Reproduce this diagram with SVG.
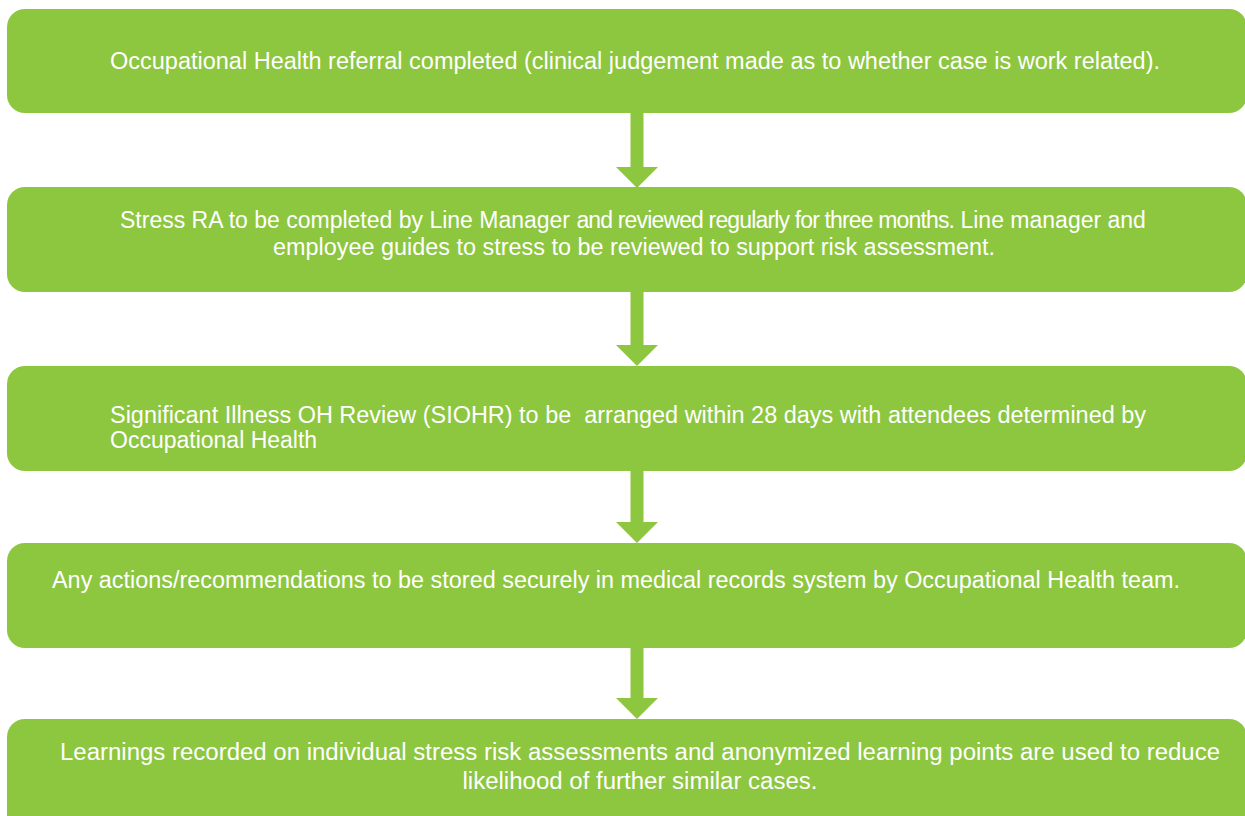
<svg xmlns="http://www.w3.org/2000/svg" width="1245" height="816" viewBox="0 0 1245 816">
  <style>
    .box { fill: #8DC63F; }
    .lbl { font-family: "Liberation Sans", Arial, sans-serif; font-size: 23px; fill: #FFFFFF; }
    .mid { text-anchor: middle; }
    .arrow { fill: #8DC63F; }
  </style>
  <defs>
    <!-- down arrow: shaft plus triangular head, tip at (0,0) -->
    <path id="down" d="M-6.5,-75 H6.5 V-21 H21 L0,0 L-21,-21 H-6.5 Z"/>
  </defs>
  <rect width="1245" height="816" fill="#FFFFFF"/>

  <g id="connectors" class="arrow">
    <use href="#down" x="637" y="188"/>
    <use href="#down" x="637" y="366"/>
    <use href="#down" x="637" y="543"/>
    <use href="#down" x="637" y="719"/>
  </g>

  <g id="step1">
    <rect class="box" x="7" y="9" width="1240" height="104" rx="18"/>
    <text class="lbl mid" x="635" y="69" textLength="1050" lengthAdjust="spacingAndGlyphs">Occupational Health referral completed (clinical judgement made as to whether case is work related).</text>
  </g>

  <g id="step2">
    <rect class="box" x="7" y="187" width="1240" height="105" rx="18"/>
    <text class="lbl" x="120" y="228">Stress RA to be completed by Line Manager <tspan letter-spacing="-0.85">and reviewed regularly for three months.</tspan> Line manager and</text>
    <text class="lbl mid" x="634" y="255" textLength="722" lengthAdjust="spacingAndGlyphs">employee guides to stress to be reviewed to support risk assessment.</text>
  </g>

  <g id="step3">
    <rect class="box" x="7" y="366" width="1240" height="105" rx="18"/>
    <text class="lbl" x="110" y="423" xml:space="preserve" textLength="1036" lengthAdjust="spacingAndGlyphs">Significant Illness OH Review (SIOHR) to be  arranged within 28 days with attendees determined by</text>
    <text class="lbl" x="110" y="448">Occupational Health</text>
  </g>

  <g id="step4">
    <rect class="box" x="7" y="543" width="1240" height="105" rx="18"/>
    <text class="lbl mid" x="616" y="588" textLength="1128" lengthAdjust="spacingAndGlyphs">Any actions/recommendations to be stored securely in medical records system by Occupational Health team.</text>
  </g>

  <g id="step5">
    <rect class="box" x="7" y="719" width="1240" height="120" rx="18"/>
    <text class="lbl mid" x="640" y="760" textLength="1160" lengthAdjust="spacingAndGlyphs">Learnings recorded on individual stress risk assessments and anonymized learning points are used to reduce</text>
    <text class="lbl mid" x="640" y="789" textLength="355" lengthAdjust="spacingAndGlyphs">likelihood of further similar cases.</text>
  </g>
</svg>
